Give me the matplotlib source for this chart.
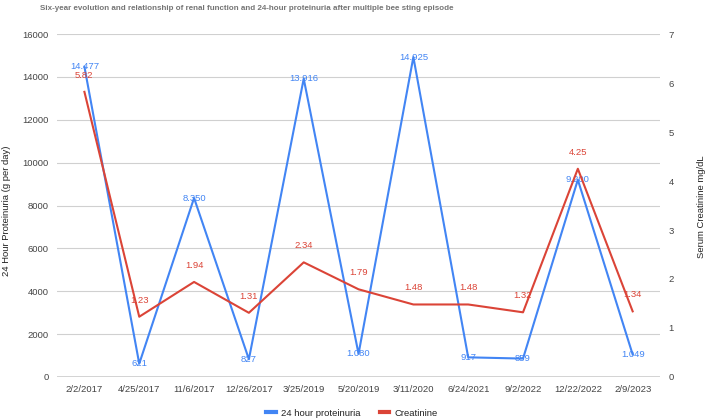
import matplotlib
import matplotlib.pyplot as plt
import numpy as np
matplotlib.use('Agg')
plt.rcParams['font.family'] = ['Liberation Sans', 'DejaVu Sans']

# ===== data =====
dates = ["2/2/2017", "4/25/2017", "11/6/2017", "12/26/2017", "3/25/2019", "5/20/2019",
         "3/11/2020", "6/24/2021", "9/2/2022", "12/22/2022", "2/9/2023"]
proteinuria = [14477, 621, 8350, 827, 13916, 1080, 14925, 917, 859, 9200, 1049]
creatinine = [5.82, 1.23, 1.94, 1.31, 2.34, 1.79, 1.48, 1.48, 1.32, 4.25, 1.34]
left_ticks = [0, 2000, 4000, 6000, 8000, 10000, 12000, 14000, 16000]
right_ticks = [0, 1, 2, 3, 4, 5, 6, 7]

BLUE = "#4285F4"
RED = "#DB4437"
TXT = "#444444"

fig = plt.figure(figsize=(7.09, 4.20), dpi=100)
ax = fig.add_axes([0.0804, 0.1024, 0.8506, 0.8166])
ax2 = ax.twinx()

x = np.arange(len(dates))

# ===== grid =====
ax.set_ylim(0, 16000)
ax.set_yticks(left_ticks)
ax.grid(axis='y', color='#d0d0d0', linewidth=0.8)
ax.set_axisbelow(True)
for s in ax.spines.values():
    s.set_visible(False)
for s in ax2.spines.values():
    s.set_visible(False)
ax.axhline(0, color='#333333', linewidth=1.0, zorder=3)

# ===== lines =====
ax.plot(x, proteinuria, color=BLUE, linewidth=1.5, zorder=4, label="24 hour proteinuria")
ax2.plot(x, creatinine, color=RED, linewidth=1.5, zorder=4, label="Creatinine")
ax2.set_ylim(0, 7)
ax2.set_yticks(right_ticks)

# ===== data labels =====
for xi, v in zip(x, proteinuria):
    s = f"{v:,}".replace(",", ".")
    ax.text(xi, v, s, color=BLUE, fontsize=6.8, ha='center', va='center', zorder=6)
for xi, v in zip(x, creatinine):
    ax2.annotate(f"{v:.2f}", (xi, v), xytext=(0, 12), textcoords='offset points',
                 color=RED, fontsize=6.8, ha='center', va='center', zorder=6)

ax.set_xlim(-0.5, len(dates) - 0.5)
ax.set_xticks(x)
ax.set_xticklabels(dates)
for a in (ax, ax2):
    a.tick_params(length=0, labelsize=6.8, labelcolor=TXT)
ax.tick_params(axis='x', pad=6)
ax.tick_params(axis='y', pad=6)
ax2.tick_params(axis='y', pad=6)

# ===== titles & labels =====
fig.text(40 / 709, 1 - 8 / 420, "Six-year evolution and relationship of renal function and 24-hour proteinuria after multiple bee sting episode",
         fontsize=5.8, fontweight='bold', color='#757575', ha='left', va='center')
fig.text(7 / 709, 1 - 211 / 420, "24 Hour Proteinuria (g per day)", rotation=90,
         fontsize=6.8, color='#222222', ha='center', va='center')
fig.text(702 / 709, 1 - 207 / 420, "Serum Creatinine mg/dL", rotation=90,
         fontsize=6.8, color='#222222', ha='center', va='center')

# ===== legend =====
h1, l1 = ax.get_legend_handles_labels()
h2, l2 = ax2.get_legend_handles_labels()
leg = fig.legend(h1 + h2, l1 + l2, loc='center', bbox_to_anchor=(352 / 709, 1 - 413 / 420),
                 ncol=2, frameon=False, fontsize=6.8, handlelength=1.0, handletextpad=0.6,
                 columnspacing=2.0)
for t in leg.get_texts():
    t.set_color('#222222')
for line in leg.get_lines():
    line.set_linewidth(3)

fig.savefig("out.png", dpi=100)
